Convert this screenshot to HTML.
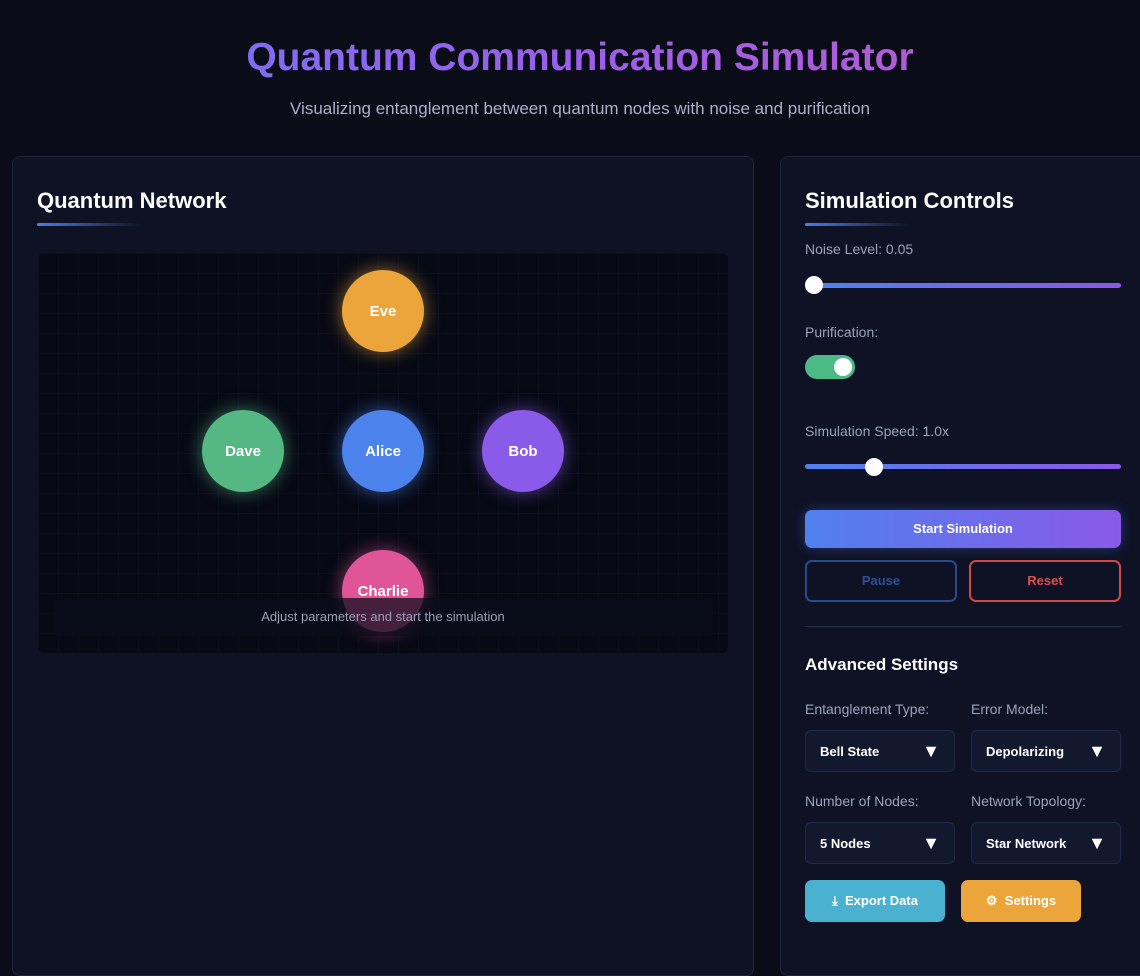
<!DOCTYPE html>
<html><head><meta charset="utf-8"><style>
*{margin:0;padding:0;box-sizing:border-box}
body{width:1140px;height:956px;overflow:hidden;background:#0a0c18;font-family:"Liberation Sans",sans-serif;position:relative;color:#e8eaf5}
.abs{position:absolute}
h1{position:absolute;top:36px;left:10px;width:1140px;text-align:center;font-size:39px;font-weight:bold;background:linear-gradient(90deg,#6e74f5,#9b5fe8,#c05ac8);-webkit-background-clip:text;color:transparent}
.sub{top:99px;left:10px;width:1140px;text-align:center;font-size:17px;color:#aab0c8}
.panel{background:#0e1224;border:1px solid #1e2540;border-radius:8px}
.ttl{font-size:22px;font-weight:bold;color:#fff}
.ul{height:3px;width:104px;background:linear-gradient(90deg,#4a7ee8,transparent);border-radius:2px}
.canvas{left:38px;top:253px;width:690px;height:400px;background-color:#070914;border-radius:6px;background-image:linear-gradient(rgba(40,50,90,.13) 1px,transparent 1px),linear-gradient(90deg,rgba(40,50,90,.13) 1px,transparent 1px);background-size:20px 20px}
.node{position:absolute;width:82px;height:82px;border-radius:50%;display:flex;align-items:center;justify-content:center;color:#fff;font-weight:bold;font-size:15px}
.lbl{font-size:14px;color:#9aa2bb}
.track{height:5px;border-radius:3px;background:linear-gradient(90deg,#4f80ee,#8a5ae8)}
.knob{width:18px;height:18px;border-radius:50%;background:#fff}
.sel{width:150px;height:42px;border:1px solid #222a48;border-radius:6px;background:#12182e;font-size:13px;font-weight:bold;color:#fff;padding:0 14px;display:flex;align-items:center;justify-content:space-between}
.sel span.a{font-size:18px}
</style></head><body>
<h1>Quantum Communication Simulator</h1>
<div class="abs sub">Visualizing entanglement between quantum nodes with noise and purification</div>

<div class="abs panel" style="left:12px;top:156px;width:742px;height:820px"></div>
<div class="abs ttl" style="left:37px;top:188px">Quantum Network</div>
<div class="abs ul" style="left:37px;top:223px"></div>
<div class="abs canvas"></div>
<div class="node" style="left:342px;top:270px;background:#eba53a;box-shadow:0 0 18px rgba(235,165,58,.6)">Eve</div>
<div class="node" style="left:202px;top:410px;background:#54b784;box-shadow:0 0 18px rgba(84,183,132,.6)">Dave</div>
<div class="node" style="left:342px;top:410px;background:#4b82ec;box-shadow:0 0 18px rgba(75,130,236,.6)">Alice</div>
<div class="node" style="left:482px;top:410px;background:#8a5ae8;box-shadow:0 0 18px rgba(138,90,232,.6)">Bob</div>
<div class="node" style="left:342px;top:550px;background:#df5598;box-shadow:0 0 18px rgba(223,85,152,.6)">Charlie</div>
<div class="abs" style="left:53px;top:598px;width:660px;height:38px;background:rgba(10,12,26,.72);border-radius:4px;color:#9aa0b5;font-size:13px;text-align:center;line-height:38px">Adjust parameters and start the simulation</div>

<div class="abs panel" style="left:780px;top:156px;width:380px;height:820px"></div>
<div class="abs ttl" style="left:805px;top:188px">Simulation Controls</div>
<div class="abs ul" style="left:805px;top:223px"></div>
<div class="abs lbl" style="left:805px;top:241px">Noise Level: 0.05</div>
<div class="abs track" style="left:805px;top:283px;width:316px"></div>
<div class="abs knob" style="left:805px;top:276px"></div>
<div class="abs lbl" style="left:805px;top:324px">Purification:</div>
<div class="abs" style="left:805px;top:355px;width:50px;height:24px;border-radius:12px;background:#4cba84"></div>
<div class="abs knob" style="left:834px;top:358px"></div>
<div class="abs lbl" style="left:805px;top:423px">Simulation Speed: 1.0x</div>
<div class="abs track" style="left:805px;top:464px;width:316px"></div>
<div class="abs knob" style="left:865px;top:458px"></div>
<div class="abs" style="left:805px;top:510px;width:316px;height:38px;border-radius:7px;background:linear-gradient(90deg,#4f80ee,#8a5ae8);box-shadow:0 0 12px rgba(80,110,240,.4);color:#fff;font-size:13px;font-weight:bold;text-align:center;line-height:38px">Start Simulation</div>
<div class="abs" style="left:805px;top:560px;width:152px;height:42px;border-radius:7px;border:2px solid #2a4a90;color:#2f4f98;font-size:13px;font-weight:bold;text-align:center;line-height:38px">Pause</div>
<div class="abs" style="left:969px;top:560px;width:152px;height:42px;border-radius:7px;border:2px solid #d04848;color:#e04c4c;font-size:13px;font-weight:bold;text-align:center;line-height:38px">Reset</div>
<div class="abs" style="left:805px;top:626px;width:316px;height:1px;background:#252c46"></div>
<div class="abs" style="left:805px;top:655px;font-size:17px;font-weight:bold;color:#fff">Advanced Settings</div>
<div class="abs lbl" style="left:805px;top:701px">Entanglement Type:</div>
<div class="abs lbl" style="left:971px;top:701px">Error Model:</div>
<div class="abs sel" style="left:805px;top:730px">Bell State<span class="a">▼</span></div>
<div class="abs sel" style="left:971px;top:730px">Depolarizing<span class="a">▼</span></div>
<div class="abs lbl" style="left:805px;top:793px">Number of Nodes:</div>
<div class="abs lbl" style="left:971px;top:793px">Network Topology:</div>
<div class="abs sel" style="left:805px;top:822px">5 Nodes<span class="a">▼</span></div>
<div class="abs sel" style="left:971px;top:822px">Star Network<span class="a">▼</span></div>
<div class="abs" style="left:805px;top:880px;width:140px;height:42px;border-radius:7px;background:#4ab2d0;color:#fff;font-size:13px;font-weight:bold;text-align:center;line-height:42px">⤓&nbsp; Export Data</div>
<div class="abs" style="left:961px;top:880px;width:120px;height:42px;border-radius:7px;background:#eba53a;color:#fff;font-size:13px;font-weight:bold;text-align:center;line-height:42px">⚙&nbsp; Settings</div>
</body></html>
